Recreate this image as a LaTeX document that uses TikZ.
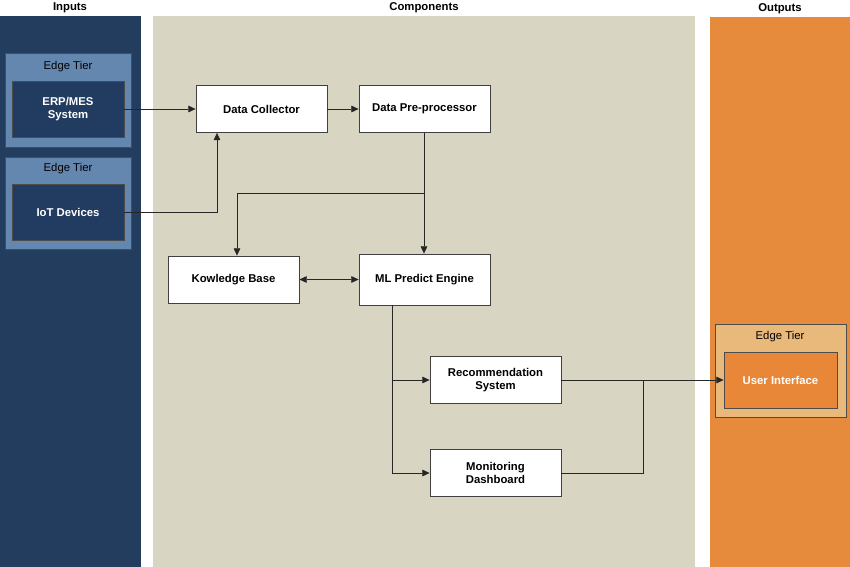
\documentclass[tikz,border=0pt]{standalone}
\usepackage{fontspec}
\setmainfont{Liberation Sans}
\usetikzlibrary{arrows.meta}
\definecolor{inpanel}{RGB}{35,61,95}
\definecolor{inedge}{RGB}{100,135,176}
\definecolor{indark}{RGB}{33,60,96}
\definecolor{comppanel}{RGB}{217,213,195}
\definecolor{outpanel}{RGB}{230,138,59}
\definecolor{outedge}{RGB}{232,185,122}
\definecolor{outinner}{RGB}{232,135,56}
\tikzset{
  tip/.tip={Triangle[length=5.5pt,width=5pt]},
  title/.style={font=\fontsize{8.5}{10}\selectfont\bfseries},
  comp/.style={draw=black!75, fill=white, line width=0.6pt, minimum width=98.25pt, minimum height=35.25pt, align=center, font=\fontsize{8.5}{10}\selectfont\bfseries, inner sep=0pt},
  edgebox/.style={draw=black!70, line width=0.6pt, inner sep=0pt},
  edgelbl/.style={font=\fontsize{8.5}{10}\selectfont},
  conn/.style={draw=black!85, line width=0.6pt, -tip},
  line/.style={draw=black!85, line width=0.6pt},
}
\begin{document}
\begin{tikzpicture}[x=0.75pt, y=-0.75pt]
\useasboundingbox (0,0) rectangle (850,567);
\fill[white] (0,0) rectangle (850,567);
% panels
\fill[inpanel] (0,16) rectangle (141,567);
\fill[comppanel] (153,16) rectangle (695,567);
\fill[outpanel] (710,17) rectangle (850,567);
\node[title] (tin) at (70,8) {Inputs};
\node[title] (tcomp) at (424,8) {Components};
\node[title] (tout) at (780,9) {Outputs};
% input edge tiers
\draw[edgebox, fill=inedge] (5,53) rectangle (131,147);
\node[edgelbl] (et1) at (68,67) {Edge Tier};
\node[edgebox, fill=indark, minimum width=84pt, minimum height=42pt, text=white, font=\fontsize{8.5}{10}\selectfont\bfseries, align=center] (erp) at (68,109) {ERP/MES\\System};
\draw[edgebox, fill=inedge] (5,157) rectangle (131,249);
\node[edgelbl] (et2) at (68,169) {Edge Tier};
\node[edgebox, fill=indark, minimum width=84pt, minimum height=42pt, text=white, font=\fontsize{8.5}{10}\selectfont\bfseries, align=center] (iot) at (68,212) {IoT Devices};
% output edge tier
\draw[edgebox, fill=outedge] (715,324) rectangle (846,417);
\node[edgelbl] (et3) at (780,337) {Edge Tier};
\node[edgebox, fill=outinner, minimum width=84.75pt, minimum height=42pt, text=white, font=\fontsize{8.5}{10}\selectfont\bfseries] (ui) at (780.5,380) {User Interface};
% components
\node[comp] (dc) at (261.5,109) {Data Collector};
\node[comp] (dpp) at (424.5,109) {Data Pre-processor};
\node[comp] (kb) at (233.5,279.5) {Kowledge Base};
\node[comp, minimum height=38.25pt] (ml) at (424.5,279.5) {ML Predict Engine};
\node[comp] (rec) at (495.5,380) {Recommendation\\System};
\node[comp] (mon) at (495.5,473) {Monitoring\\Dashboard};
% connectors
\coordinate (iotbend) at (217,212);
\coordinate (split) at (424,193);
\coordinate (kbbend) at (237,193);
\coordinate (mlbot) at (392,305);
\coordinate (recin) at (392,380);
\coordinate (monin) at (392,473);
\coordinate (join) at (643,380);
\coordinate (monbend) at (643,473);
\draw[conn] (erp.east) -- (dc.west);
\draw[conn] (iot.east) -- (iotbend) -- (dc.south -| iotbend);
\draw[conn] (dc.east) -- (dpp.west);
\draw[conn] (dpp.south -| split) -- (ml.north -| split);
\draw[conn] (split) -- (kbbend) -- (kb.north -| kbbend);
\draw[conn, tip-tip] (kb.east) -- (ml.west);
\draw[line] (mlbot) -- (monin);
\draw[conn] (recin) -- (rec.west);
\draw[conn] (monin) -- (mon.west);
\draw[conn] (rec.east) -- (ui.west);
\draw[line] (mon.east) -- (monbend) -- (join);
\end{tikzpicture}
\end{document}
